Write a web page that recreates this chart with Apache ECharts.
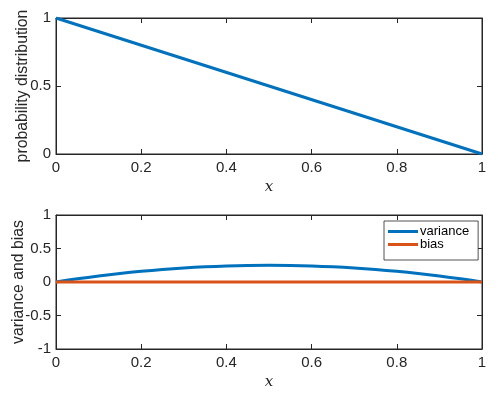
<!DOCTYPE html>
<html><head><meta charset="utf-8">
<script src="https://cdn.jsdelivr.net/npm/echarts@6/dist/echarts.min.js"></script>
<style>html,body{margin:0;padding:0;background:#fff}#c{width:498px;height:395px}</style>
</head><body><div id="c"></div>
<script>
var probX = [0, 1];
var probY = [1, 0];
var varX = [0,0.05,0.1,0.15,0.2,0.25,0.3,0.35,0.4,0.45,0.5,0.55,0.6,0.65,0.7,0.75,0.8,0.85,0.9,0.95,1];
var varY = [0,0.0475,0.09,0.1275,0.16,0.1875,0.21,0.2275,0.24,0.2475,0.25,0.2475,0.24,0.2275,0.21,0.1875,0.16,0.1275,0.09,0.0475,0];
var biasX = [0, 1];
var biasY = [0, 0];
var xTicks = ['0','0.2','0.4','0.6','0.8','1'];
var topYTicks = ['0','0.5','1'];
var botYTicks = ['-1','-0.5','0','0.5','1'];

function pairs(a,b){return a.map(function(v,i){return [v,b[i]];});}
var axC = '#262626';
var font = 'Liberation Sans, Arial, Helvetica, sans-serif';
function xa(grid, labels, showName){
  return {type:'value', gridIndex:grid, min:0, max:1, interval:0.2, position: labels?'bottom':'top',
    axisLine:{show:true,onZero:false,lineStyle:{color:axC,width:1}},
    axisTick:{show:true,inside:true,length:5,lineStyle:{color:axC,width:1}},
    axisLabel:{show:true,color:labels?axC:'rgba(0,0,0,0)',fontSize:15,fontFamily:font,margin:6,formatter:function(v){return xTicks[Math.round(v/0.2)];}},
    splitLine:{show:false},
    name: showName?'x':'', nameLocation:'middle', nameGap:26, nameMoveOverlap:false,
    nameTextStyle:{fontFamily:'DejaVu Serif, Liberation Serif, serif',fontStyle:'italic',fontSize:15,color:axC}};
}
function ya(grid, labels, min, max, ticks, name, gap){
  return {type:'value', gridIndex:grid, min:min, max:max, interval:0.5, position: labels?'left':'right',
    axisLine:{show:true,onZero:false,lineStyle:{color:axC,width:1}},
    axisTick:{show:true,inside:true,length:5,lineStyle:{color:axC,width:1}},
    axisLabel:{show:true,color:labels?axC:'rgba(0,0,0,0)',fontSize:15,fontFamily:font,margin:5,formatter:function(v){return ticks[Math.round((v-min)/0.5)];}},
    splitLine:{show:false},
    name: name||'', nameLocation:'middle', nameGap:gap||20, nameMoveOverlap:false,
    nameTextStyle:{fontFamily:font,fontSize:15.8,color:axC}};
}
var chart = echarts.init(document.getElementById('c'), null, {renderer:'canvas'});
chart.setOption({
  animation:false,
  backgroundColor:'#fff',
  grid:[{left:56,top:18,width:426,height:136,containLabel:false,outerBoundsMode:'none',show:true,borderColor:axC,borderWidth:1},
        {left:56,top:215,width:426,height:134,containLabel:false,outerBoundsMode:'none',show:true,borderColor:axC,borderWidth:1}],
  xAxis:[xa(0,true,true), xa(0,false,false), xa(1,true,true), xa(1,false,false)],
  yAxis:[ya(0,true,0,1,topYTicks,'probability distribution',25), ya(0,false,0,1,topYTicks),
         ya(1,true,-1,1,botYTicks,'variance and bias',29), ya(1,false,-1,1,botYTicks)],
  legend:{show:true, data:['variance','bias'], orient:'vertical', left:384, top:221,
    padding:[4,9,9,4], itemGap:0, itemWidth:30, itemHeight:3, icon:'rect',
    borderColor:axC, borderWidth:0.8, backgroundColor:'#fff',
    textStyle:{fontFamily:font,fontSize:13,lineHeight:12,color:'#000',padding:[0,0,0,-3]}},
  series:[
    {type:'line', xAxisIndex:1, yAxisIndex:1, data:pairs(probX,probY), silent:true, symbol:'none', lineStyle:{opacity:0}},
    {type:'line', xAxisIndex:3, yAxisIndex:3, data:pairs(biasX,biasY), silent:true, symbol:'none', lineStyle:{opacity:0}},
    {type:'line', xAxisIndex:0, yAxisIndex:0, data:pairs(probX,probY), symbol:'none',
     lineStyle:{color:'#0072BD',width:3}, itemStyle:{color:'#0072BD'}},
    {name:'variance', type:'line', xAxisIndex:2, yAxisIndex:2, data:pairs(varX,varY), symbol:'none', smooth:true,
     lineStyle:{color:'#0072BD',width:3}, itemStyle:{color:'#0072BD'}},
    {name:'bias', type:'line', xAxisIndex:2, yAxisIndex:2, data:pairs(biasX,biasY), symbol:'none',
     lineStyle:{color:'#D95319',width:3}, itemStyle:{color:'#D95319'}}
  ]
});
</script></body></html>
